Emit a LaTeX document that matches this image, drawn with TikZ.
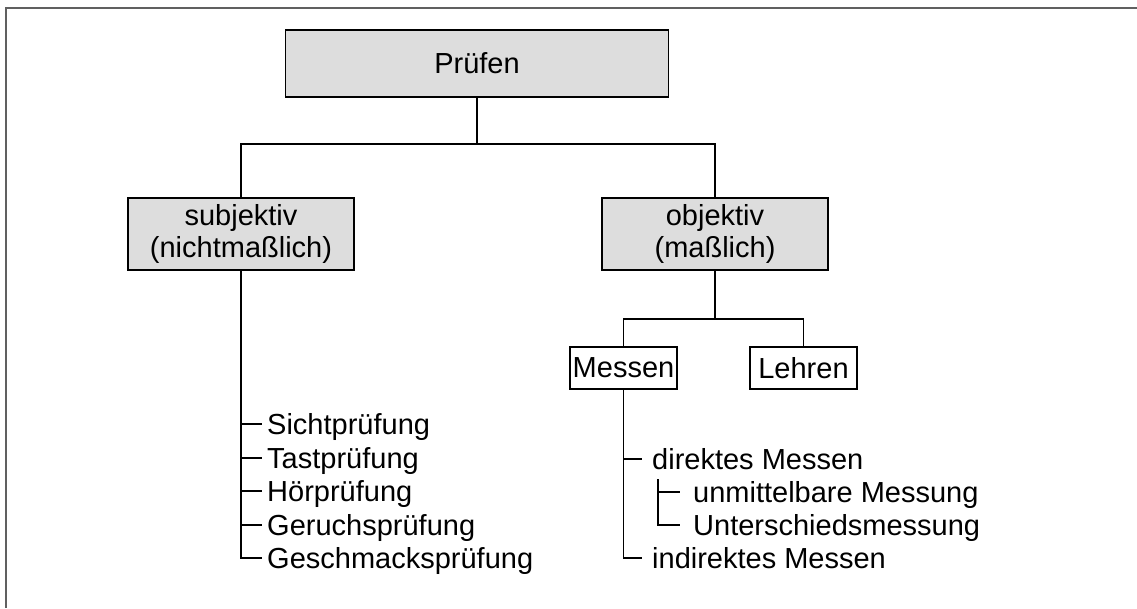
\documentclass[tikz,border=0pt]{standalone}
\usepackage{fontspec}
\setmainfont{Liberation Sans}
\definecolor{boxgray}{HTML}{DDDDDD}
\definecolor{framegray}{HTML}{606060}
\begin{document}
\begin{tikzpicture}[x=1pt,y=-1pt,
  every node/.style={font=\fontsize{29}{32}\selectfont},
  graybox/.style={draw=black, line width=1.8pt, fill=boxgray, align=center, inner sep=0pt},
  whitebox/.style={draw=black, line width=1.5pt, fill=white, inner sep=0pt, minimum width=107pt, minimum height=42pt},
  item/.style={anchor=west, inner sep=0pt, text height=21pt, text depth=0pt},
  conn/.style={draw=black, line width=1.4pt}]
\useasboundingbox (0,0) rectangle (1137,608);
\draw[framegray, line width=2pt] (6,608) -- (6,8) -- (1137,8);

% boxes
\node[graybox, minimum width=383pt, minimum height=67pt] (P) at (477,63.5) {Prüfen};
\node[graybox, minimum width=226pt, minimum height=72pt] (S) at (241,234) {subjektiv\\(nichtmaßlich)};
\node[graybox, minimum width=226pt, minimum height=72pt] (O) at (715,234) {objektiv\\(maßlich)};
\node[whitebox] (M) at (623.5,368) {Messen};
\node[whitebox] (L) at (803.5,368) {Lehren};

% top tree
\coordinate (j1) at (477,144);
\draw[conn] (P.south) -- (j1);
\draw[conn] (S.north) |- (j1) -| (O.north);
\coordinate (j2) at (715,319);
\draw[conn] (O.south) -- (j2);
\draw[conn] (M.north) |- (j2) -| (L.north);

% left list
\node[item] (s1) at (267,424) {Sichtprüfung};
\node[item] (s2) at (267,458) {Tastprüfung};
\node[item] (s3) at (267,491) {Hörprüfung};
\node[item] (s4) at (267,525) {Geruchsprüfung};
\node[item] (s5) at (267,558) {Geschmacksprüfung};
\draw[conn] (S.south) |- ([xshift=-5pt]s5.west);
\foreach \n in {s1,s2,s3,s4}
  \draw[conn] (S.south |- \n.west) -- ([xshift=-5pt]\n.west);

% right list
\node[item] (d) at (652,459) {direktes Messen};
\node[item] (u1) at (693,492) {unmittelbare Messung};
\node[item] (u2) at (693,525) {Unterschiedsmessung};
\node[item] (i) at (652,558) {indirektes Messen};
\draw[conn] (M.south) |- ([xshift=-10pt]i.west);
\draw[conn] (M.south |- d.west) -- ([xshift=-10pt]d.west);
\coordinate (sub) at (658,479);
\draw[conn] (sub) |- ([xshift=-13pt]u2.west);
\draw[conn] (sub |- u1.west) -- ([xshift=-13pt]u1.west);
\end{tikzpicture}
\end{document}
